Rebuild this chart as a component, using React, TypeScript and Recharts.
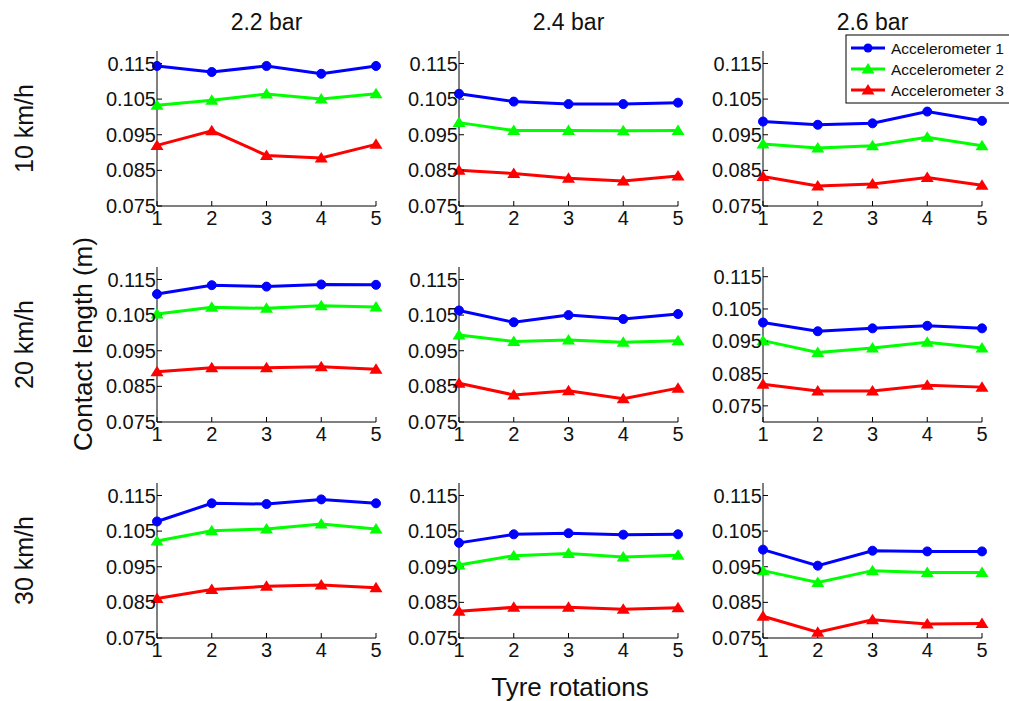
import { Line, LineChart, XAxis, YAxis } from 'recharts'

const rotations = [1, 2, 3, 4, 5]
const pressures = ['2.2 bar', '2.4 bar', '2.6 bar']
const speeds = ['10 km/h', '20 km/h', '30 km/h']
const seriesNames = ['Accelerometer 1', 'Accelerometer 2', 'Accelerometer 3']
const yTicks = [0.075, 0.085, 0.095, 0.105, 0.115]

// contact length (m); each inner list is one pressure (2.2, 2.4, 2.6 bar)
const acc1At10 = [
  [0.1143, 0.1126, 0.1143, 0.1121, 0.1143],
  [0.1065, 0.1043, 0.1036, 0.1036, 0.104],
  [0.0987, 0.0978, 0.0982, 0.1015, 0.0989],
]
const acc2At10 = [
  [0.1033, 0.1047, 0.1064, 0.105, 0.1065],
  [0.0984, 0.0962, 0.0962, 0.0961, 0.0962],
  [0.0924, 0.0913, 0.0919, 0.0943, 0.0919],
]
const acc3At10 = [
  [0.092, 0.0961, 0.0892, 0.0885, 0.0923],
  [0.085, 0.0841, 0.0828, 0.082, 0.0834],
  [0.0833, 0.0806, 0.0812, 0.083, 0.0808],
]
const acc1At20 = [
  [0.1109, 0.1134, 0.113, 0.1136, 0.1135],
  [0.1063, 0.103, 0.105, 0.1039, 0.1053],
  [0.1008, 0.0981, 0.099, 0.0998, 0.099],
]
const acc2At20 = [
  [0.1053, 0.1072, 0.1069, 0.1076, 0.1073],
  [0.0994, 0.0976, 0.098, 0.0974, 0.0978],
  [0.0952, 0.0915, 0.0929, 0.0947, 0.0929],
]
const acc3At20 = [
  [0.0891, 0.0902, 0.0902, 0.0905, 0.0898],
  [0.0859, 0.0826, 0.0838, 0.0815, 0.0845],
  [0.0817, 0.0796, 0.0796, 0.0814, 0.0808],
]
const acc1At30 = [
  [0.1077, 0.1128, 0.1126, 0.1139, 0.1128],
  [0.1017, 0.1041, 0.1044, 0.104, 0.1041],
  [0.0998, 0.0953, 0.0995, 0.0993, 0.0993],
]
const acc2At30 = [
  [0.1022, 0.1051, 0.1056, 0.107, 0.1056],
  [0.0955, 0.0981, 0.0987, 0.0977, 0.0982],
  [0.0939, 0.0906, 0.0939, 0.0934, 0.0934],
]
const acc3At30 = [
  [0.0861, 0.0886, 0.0895, 0.0899, 0.0891],
  [0.0825, 0.0836, 0.0836, 0.0831, 0.0835],
  [0.0811, 0.0766, 0.0801, 0.0789, 0.0791],
]

const acc1 = [acc1At10, acc1At20, acc1At30]
const acc2 = [acc2At10, acc2At20, acc2At30]
const acc3 = [acc3At10, acc3At20, acc3At30]

const BLUE = '#0000ff'
const GREEN = '#00ff00'
const RED = '#ff0000'
const colors = [BLUE, GREEN, RED]
const FONT = '"Liberation Sans", Arial, sans-serif'

const colLeft = [157, 459, 763]
const rowTop = [51, 267, 483]
const PW = 219
const PH = 155
const AXIS_W = 60

function circleDot(color: string) {
  return (p: any) => <circle key={`c${p.index}`} cx={p.cx} cy={p.cy} r={4.5} fill={color} stroke={color} strokeWidth={1} />
}

function triangleDot(color: string) {
  return (p: any) => (
    <path key={`t${p.index}`} d={`M${p.cx},${p.cy - 6}L${p.cx + 6.5},${p.cy + 4.5}L${p.cx - 6.5},${p.cy + 4.5}Z`} fill={color} />
  )
}

function Panel({ row, col }: { row: number; col: number }) {
  const data = rotations.map((r, i) => ({ r, a1: acc1[row][col][i], a2: acc2[row][col][i], a3: acc3[row][col][i] }))
  // the 20 km/h, 2.6 bar panel was plotted with a lower y limit
  const domain = row === 1 && col === 2 ? [0.07, 0.118] : [0.075, 0.1185]
  const tickStyle = { fill: '#111', fontSize: 20, fontFamily: FONT }
  return (
    <div style={{ position: 'absolute', left: colLeft[col] - AXIS_W, top: rowTop[row] - 10 }}>
      <LineChart width={AXIS_W + PW + 10} height={10 + PH + 30} data={data} margin={{ top: 10, right: 10, bottom: 0, left: 0 }}>
        <XAxis dataKey="r" type="number" domain={[1, 5]} ticks={rotations} height={30} tickSize={-5} tickMargin={10}
          stroke="#000" tick={tickStyle} interval={0} />
        <XAxis xAxisId="top" orientation="top" dataKey="r" type="number" domain={[1, 5]} ticks={rotations} height={0}
          tickSize={-5} stroke="#000" tickFormatter={() => ''} />
        <YAxis type="number" domain={domain} ticks={yTicks} width={AXIS_W} tickSize={-5} tickMargin={6} stroke="#000"
          tick={tickStyle} tickFormatter={(v: number) => v.toFixed(3)} allowDataOverflow interval={0} />
        <YAxis yAxisId="right" orientation="right" type="number" domain={domain} ticks={yTicks} width={0} tickSize={-5}
          stroke="#000" tickFormatter={() => ''} allowDataOverflow />
        <Line dataKey="a1" stroke={BLUE} strokeWidth={3} dot={circleDot(BLUE)} isAnimationActive={false} />
        <Line dataKey="a2" stroke={GREEN} strokeWidth={3} dot={triangleDot(GREEN)} isAnimationActive={false} />
        <Line dataKey="a3" stroke={RED} strokeWidth={3} dot={triangleDot(RED)} isAnimationActive={false} />
      </LineChart>
    </div>
  )
}

export default function App() {
  return (
    <div style={{ position: 'absolute', left: 0, top: 0, width: 1009, height: 701, background: '#fff', overflow: 'hidden', fontFamily: FONT }}>
      {speeds.map((_, r) => pressures.map((_, c) => <Panel key={`${r}-${c}`} row={r} col={c} />))}
      <svg width={1009} height={701} style={{ position: 'absolute', left: 0, top: 0, pointerEvents: 'none' }} fontFamily={FONT}>
        {pressures.map((p, c) => (
          <text key={p} x={colLeft[c] + PW / 2} y={30} textAnchor="middle" fontSize={23} fill="#111">{p}</text>
        ))}
        {speeds.map((s, r) => (
          <text key={s} transform={`translate(33, ${rowTop[r] + PH / 2}) rotate(-90)`} textAnchor="middle" fontSize={25} fill="#111">{s}</text>
        ))}
        <text transform="translate(92, 344) rotate(-90)" textAnchor="middle" fontSize={26} fill="#111">Contact length (m)</text>
        <text x={570} y={696} textAnchor="middle" fontSize={26} fill="#111">Tyre rotations</text>
        <g>
          <rect x={846} y={35} width={175} height={68} fill="#fff" stroke="#000" strokeWidth={1} />
          {seriesNames.map((n, i) => {
            const y = 48 + i * 21
            return (
              <g key={n}>
                <line x1={851} x2={885} y1={y} y2={y} stroke={colors[i]} strokeWidth={3} />
                {i === 0
                  ? <circle cx={868} cy={y} r={4.5} fill={colors[i]} />
                  : <path d={`M868,${y - 6}L874.5,${y + 4.5}L861.5,${y + 4.5}Z`} fill={colors[i]} />}
                <text x={891} y={y + 5.5} fontSize={15.5} fill="#111">{n}</text>
              </g>
            )
          })}
        </g>
      </svg>
    </div>
  )
}
